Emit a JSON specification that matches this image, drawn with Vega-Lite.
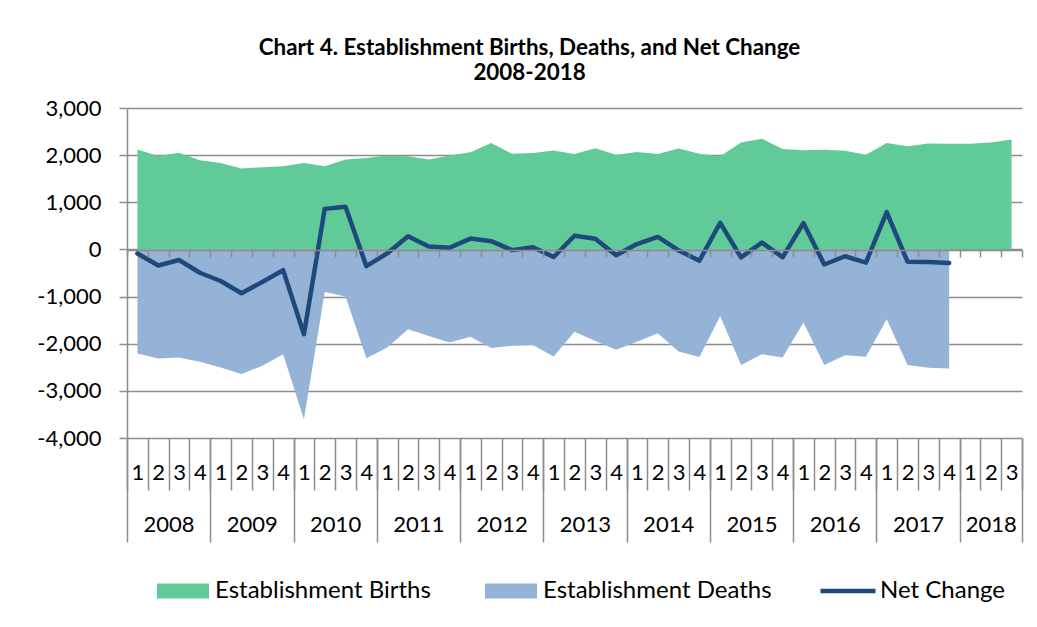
{
  "$schema": "https://vega.github.io/schema/vega-lite/v6.json",
  "width": 895,
  "height": 330,
  "autosize": {"type": "none"},
  "padding": {"left": 127, "top": 108, "right": 15, "bottom": 189},
  "background": "white",
  "config": {"font": "Lato", "view": {"stroke": null}},
  "title": {
    "text": ["Chart 4. Establishment Births, Deaths, and Net Change", "2008-2018"],
    "fontSize": 22.4,
    "fontWeight": "bold",
    "font": "Lato",
    "color": "#000000",
    "anchor": "middle",
    "dx": -45,
    "dy": 16,
    "offset": 6,
    "lineHeight": 25,
    "baseline": "bottom"
  },
  "data": {
    "values": [
      {"seq": 1, "year": 2008, "quarter": 1, "births": 2120, "deaths": -2210, "net": -85},
      {"seq": 2, "year": 2008, "quarter": 2, "births": 1980, "deaths": -2315, "net": -340},
      {"seq": 3, "year": 2008, "quarter": 3, "births": 2050, "deaths": -2295, "net": -225},
      {"seq": 4, "year": 2008, "quarter": 4, "births": 1890, "deaths": -2385, "net": -495},
      {"seq": 5, "year": 2009, "quarter": 1, "births": 1835, "deaths": -2505, "net": -670},
      {"seq": 6, "year": 2009, "quarter": 2, "births": 1715, "deaths": -2645, "net": -930},
      {"seq": 7, "year": 2009, "quarter": 3, "births": 1745, "deaths": -2470, "net": -690},
      {"seq": 8, "year": 2009, "quarter": 4, "births": 1765, "deaths": -2225, "net": -440},
      {"seq": 9, "year": 2010, "quarter": 1, "births": 1835, "deaths": -3600, "net": -1800},
      {"seq": 10, "year": 2010, "quarter": 2, "births": 1765, "deaths": -905, "net": 860},
      {"seq": 11, "year": 2010, "quarter": 3, "births": 1905, "deaths": -1000, "net": 905},
      {"seq": 12, "year": 2010, "quarter": 4, "births": 1940, "deaths": -2310, "net": -355},
      {"seq": 13, "year": 2011, "quarter": 1, "births": 1995, "deaths": -2080, "net": -85},
      {"seq": 14, "year": 2011, "quarter": 2, "births": 1975, "deaths": -1695, "net": 280},
      {"seq": 15, "year": 2011, "quarter": 3, "births": 1905, "deaths": -1835, "net": 60},
      {"seq": 16, "year": 2011, "quarter": 4, "births": 1995, "deaths": -1975, "net": 35},
      {"seq": 17, "year": 2012, "quarter": 1, "births": 2060, "deaths": -1850, "net": 230},
      {"seq": 18, "year": 2012, "quarter": 2, "births": 2255, "deaths": -2090, "net": 175},
      {"seq": 19, "year": 2012, "quarter": 3, "births": 2030, "deaths": -2045, "net": -15},
      {"seq": 20, "year": 2012, "quarter": 4, "births": 2045, "deaths": -2025, "net": 45},
      {"seq": 21, "year": 2013, "quarter": 1, "births": 2100, "deaths": -2270, "net": -160},
      {"seq": 22, "year": 2013, "quarter": 2, "births": 2025, "deaths": -1745, "net": 290},
      {"seq": 23, "year": 2013, "quarter": 3, "births": 2145, "deaths": -1940, "net": 225},
      {"seq": 24, "year": 2013, "quarter": 4, "births": 2010, "deaths": -2130, "net": -125},
      {"seq": 25, "year": 2014, "quarter": 1, "births": 2065, "deaths": -1960, "net": 115},
      {"seq": 26, "year": 2014, "quarter": 2, "births": 2025, "deaths": -1780, "net": 265},
      {"seq": 27, "year": 2014, "quarter": 3, "births": 2140, "deaths": -2165, "net": -20},
      {"seq": 28, "year": 2014, "quarter": 4, "births": 2030, "deaths": -2280, "net": -240},
      {"seq": 29, "year": 2015, "quarter": 1, "births": 1975, "deaths": -1410, "net": 565},
      {"seq": 30, "year": 2015, "quarter": 2, "births": 2270, "deaths": -2450, "net": -170},
      {"seq": 31, "year": 2015, "quarter": 3, "births": 2350, "deaths": -2225, "net": 145},
      {"seq": 32, "year": 2015, "quarter": 4, "births": 2130, "deaths": -2295, "net": -165},
      {"seq": 33, "year": 2016, "quarter": 1, "births": 2105, "deaths": -1550, "net": 560},
      {"seq": 34, "year": 2016, "quarter": 2, "births": 2115, "deaths": -2450, "net": -320},
      {"seq": 35, "year": 2016, "quarter": 3, "births": 2095, "deaths": -2245, "net": -145},
      {"seq": 36, "year": 2016, "quarter": 4, "births": 2010, "deaths": -2275, "net": -280},
      {"seq": 37, "year": 2017, "quarter": 1, "births": 2260, "deaths": -1480, "net": 790},
      {"seq": 38, "year": 2017, "quarter": 2, "births": 2190, "deaths": -2450, "net": -260},
      {"seq": 39, "year": 2017, "quarter": 3, "births": 2245, "deaths": -2510, "net": -265},
      {"seq": 40, "year": 2017, "quarter": 4, "births": 2240, "deaths": -2525, "net": -290},
      {"seq": 41, "year": 2018, "quarter": 1, "births": 2240, "deaths": null, "net": null},
      {"seq": 42, "year": 2018, "quarter": 2, "births": 2270, "deaths": null, "net": null},
      {"seq": 43, "year": 2018, "quarter": 3, "births": 2330, "deaths": null, "net": null}
    ]
  },
  "layer": [
    {
      "mark": {"type": "area", "opacity": 1},
      "encoding": {
        "x": {
          "field": "seq", "type": "quantitative",
          "scale": {"domain": [0.5, 43.5], "nice": false, "zero": false},
          "axis": {
            "orient": "bottom",
            "values": [0.5,1.5,2.5,3.5,4.5,5.5,6.5,7.5,8.5,9.5,10.5,11.5,12.5,13.5,14.5,15.5,16.5,17.5,18.5,19.5,20.5,21.5,22.5,23.5,24.5,25.5,26.5,27.5,28.5,29.5,30.5,31.5,32.5,33.5,34.5,35.5,36.5,37.5,38.5,39.5,40.5,41.5,42.5,43.5],
            "domain": false, "grid": false,
            "ticks": true, "tickSize": 52, "tickColor": "#8c8c8c", "tickWidth": 1.5,
            "labelExpr": "datum.value < 43 ? '' + ((datum.value - 0.5) % 4 + 1) : ''",
            "labelOffset": 10.4, "labelPadding": -18, "labelBaseline": "middle",
            "labelFontSize": 22, "labelColor": "#000000", "labelFont": "Lato",
            "labelFlush": false, "labelOverlap": false, "labelBound": false,
            "title": null
          }
        },
        "y": {
          "field": "births", "type": "quantitative",
          "scale": {"domain": [-4000, 3000], "nice": false, "zero": false},
          "axis": {
            "orient": "left",
            "values": [-4000, -3000, -2000, -1000, 0, 1000, 2000, 3000],
            "format": ",d",
            "labelExpr": "replace(datum.label, '\u2212', '-')",
            "grid": true, "gridColor": "#8c8c8c", "gridWidth": 1.5,
            "domain": true, "domainColor": "#8c8c8c", "domainWidth": 1.5,
            "tickSize": 8, "tickColor": "#8c8c8c", "tickWidth": 1.5,
            "labelFontSize": 22, "labelColor": "#000000", "labelFont": "Lato", "labelPadding": 18,
            "title": null
          }
        },
        "y2": {"datum": 0},
        "fill": {
          "datum": "Establishment Births", "type": "nominal",
          "scale": {"domain": ["Establishment Births", "Establishment Deaths"], "range": ["#60CB98", "#95B3D7"]},
          "legend": {
            "orient": "none", "legendX": 30, "legendY": 457, "direction": "horizontal",
            "title": null, "padding": 0,
            "symbolType": "M-1,-0.29H1V0.29H-1Z", "symbolSize": 2704, "symbolStrokeWidth": 0, "symbolOpacity": 1,
            "labelFontSize": 24, "labelFont": "Lato", "labelColor": "#000000", "labelLimit": 400,
            "labelOffset": 6, "columnPadding": 54
          }
        }
      }
    },
    {
      "mark": {"type": "area", "opacity": 1},
      "encoding": {
        "x": {
          "field": "seq", "type": "quantitative",
          "scale": {"domain": [0.5, 43.5], "nice": false, "zero": false},
          "axis": {
            "orient": "bottom",
            "values": [0.5, 4.5, 8.5, 12.5, 16.5, 20.5, 24.5, 28.5, 32.5, 36.5, 40.5, 43.5],
            "domain": false, "grid": false,
            "ticks": true, "tickSize": 104, "tickColor": "#8c8c8c", "tickWidth": 1.5,
            "labelExpr": "datum.value < 43 ? '' + (2008 + (datum.value - 0.5) / 4) : ''",
            "labelOffset": {"condition": {"test": "datum.value > 40", "value": 31.2}, "value": 41.6},
            "labelPadding": -18, "labelBaseline": "middle",
            "labelFontSize": 22, "labelColor": "#000000", "labelFont": "Lato",
            "labelFlush": false, "labelOverlap": false, "labelBound": false,
            "title": null
          }
        },
        "y": {
          "field": "deaths", "type": "quantitative",
          "axis": {
            "orient": "left",
            "values": [-4000, -3000, -2000, -1000, 0, 1000, 2000, 3000],
            "format": ",d",
            "labelExpr": "replace(datum.label, '\u2212', '-')",
            "grid": true, "gridColor": "#8c8c8c", "gridWidth": 1.5,
            "domain": true, "domainColor": "#8c8c8c", "domainWidth": 1.5,
            "tickSize": 8, "tickColor": "#8c8c8c", "tickWidth": 1.5,
            "labelFontSize": 22, "labelColor": "#000000", "labelFont": "Lato", "labelPadding": 18,
            "title": null
          }
        },
        "y2": {"datum": 0},
        "fill": {"datum": "Establishment Deaths", "type": "nominal"}
      }
    },
    {
      "mark": {"type": "line", "strokeWidth": 4.5, "strokeCap": "round", "strokeJoin": "round"},
      "encoding": {
        "x": {
          "field": "seq", "type": "quantitative",
          "scale": {"domain": [0.5, 43.5], "nice": false, "zero": false},
          "axis": {
            "orient": "bottom", "offset": -188,
            "values": [0.5,1.5,2.5,3.5,4.5,5.5,6.5,7.5,8.5,9.5,10.5,11.5,12.5,13.5,14.5,15.5,16.5,17.5,18.5,19.5,20.5,21.5,22.5,23.5,24.5,25.5,26.5,27.5,28.5,29.5,30.5,31.5,32.5,33.5,34.5,35.5,36.5,37.5,38.5,39.5,40.5,41.5,42.5,43.5],
            "domain": true, "domainColor": "#8c8c8c", "domainWidth": 1.5,
            "ticks": true, "tickSize": 7, "tickColor": "#8c8c8c", "tickWidth": 1.5,
            "labels": false, "grid": false, "title": null, "zindex": 1
          }
        },
        "y": {
          "field": "net", "type": "quantitative",
          "axis": {
            "orient": "left",
            "values": [-4000, -3000, -2000, -1000, 0, 1000, 2000, 3000],
            "format": ",d",
            "labelExpr": "replace(datum.label, '\u2212', '-')",
            "grid": true, "gridColor": "#8c8c8c", "gridWidth": 1.5,
            "domain": true, "domainColor": "#8c8c8c", "domainWidth": 1.5,
            "tickSize": 8, "tickColor": "#8c8c8c", "tickWidth": 1.5,
            "labelFontSize": 22, "labelColor": "#000000", "labelFont": "Lato", "labelPadding": 18,
            "title": null
          }
        },
        "stroke": {
          "datum": "Net Change", "type": "nominal",
          "scale": {"domain": ["Net Change"], "range": ["#1F497D"]},
          "legend": {
            "orient": "none", "legendX": 691, "legendY": 453,
            "title": null, "padding": 0,
            "symbolType": "stroke", "symbolSize": 3025, "symbolStrokeWidth": 4.5,
            "labelFontSize": 24, "labelFont": "Lato", "labelColor": "#000000", "labelLimit": 400,
            "labelOffset": 2
          }
        }
      }
    }
  ],
  "resolve": {"axis": {"x": "independent"}}
}
